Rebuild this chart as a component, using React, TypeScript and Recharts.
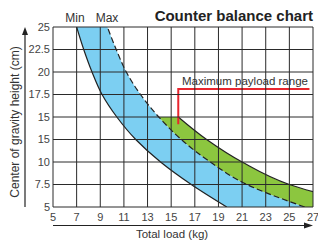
import React from 'react';
import { ComposedChart, Area, Line, XAxis, YAxis, CartesianGrid } from 'recharts';

// Center of gravity height (cm), ascending
const heights = [5, 7.5, 10, 12.5, 15, 17.5, 20, 22.5, 25];
// "Min" curve: total load (kg) at each height
const minLoad = [19.7, 16.7, 14.1, 12.0, 10.4, 9.15, 8.3, 7.6, 7.0];
// "Max" curve (dashed): total load (kg) at each height
const maxLoad = [26.3, 21.4, 18.3, 15.85, 13.95, 12.4, 11.2, 10.35, 9.6];
// Outer edge of the maximum payload (green) band
const outerHeights = [5, 7.5, 10, 12.5, 15];
const outerLoad = [32, 25.0, 21.0, 18.0, 15.6];
// Red "Maximum payload range" marker
const markerHeights = [14.2, 18.1, 18.1];
const markerLoads = [15.6, 15.6, 26.7];

const xTicks = [5, 7, 9, 11, 13, 15, 17, 19, 21, 23, 25, 27];
const yTicks = [5, 7.5, 10, 12.5, 15, 17.5, 20, 22.5, 25];
const yTickLabels = ['5', '7.5', '10', '15', '15', '17.5', '20', '22.5', '25'];

const blueRows = heights.map((h, i) => ({
  h,
  band: [minLoad[i], maxLoad[i]],
  min: minLoad[i],
  max: maxLoad[i],
}));

const greenRows = outerHeights.map((h, i) => {
  const j = heights.indexOf(h);
  return { h, band: [maxLoad[j], outerLoad[i]], outer: outerLoad[i] };
});

const markerRows = markerHeights.map((h, i) => ({ h, load: markerLoads[i] }));

const FONT = '"Liberation Sans", Arial, Helvetica, sans-serif';

export default function App() {
  return (
    <div style={{ position: 'absolute', left: 0, top: 0, width: 318, height: 240, fontFamily: FONT, background: '#fff' }}>
      <ComposedChart
        width={318}
        height={240}
        layout="vertical"
        margin={{ top: 27, right: 5, bottom: 13, left: 0 }}
      >
        <XAxis
          type="number"
          domain={[5, 27]}
          ticks={xTicks}
          allowDataOverflow
          axisLine={false}
          tickLine={false}
          tickSize={4}
          tickMargin={2}
          height={20}
          interval={0}
          tick={{ fontSize: 11, fill: '#444', fontFamily: FONT }}
        />
        <YAxis
          type="number"
          dataKey="h"
          domain={[5, 25]}
          ticks={yTicks}
          reversed
          allowDataOverflow
          axisLine={false}
          tickLine={false}
          tickSize={3}
          tickMargin={0}
          width={53}
          interval={0}
          tickFormatter={(v: number) => yTickLabels[yTicks.indexOf(v)] ?? String(v)}
          tick={{ fontSize: 11, fill: '#444', fontFamily: FONT }}
        />
        <Area
          data={blueRows}
          dataKey="band"
          type="monotone"
          fill="#7ccff2"
          fillOpacity={1}
          stroke="none"
          isAnimationActive={false}
          activeDot={false}
        />
        <Area
          data={greenRows}
          dataKey="band"
          type="monotone"
          fill="#8cc63f"
          fillOpacity={1}
          stroke="none"
          isAnimationActive={false}
          activeDot={false}
        />
        <CartesianGrid stroke="#2a2a2a" strokeWidth={1} fill="none" zIndex={450} />
        <Line
          data={blueRows}
          dataKey="min"
          type="monotone"
          stroke="#222"
          strokeWidth={1.2}
          dot={false}
          activeDot={false}
          isAnimationActive={false}
        />
        <Line
          data={blueRows}
          dataKey="max"
          type="monotone"
          stroke="#222"
          strokeWidth={1.2}
          strokeDasharray="6 3"
          dot={false}
          activeDot={false}
          isAnimationActive={false}
        />
        <Line
          data={greenRows}
          dataKey="outer"
          type="monotone"
          stroke="#222"
          strokeWidth={1.2}
          dot={false}
          activeDot={false}
          isAnimationActive={false}
        />
        <Line
          data={markerRows}
          dataKey="load"
          type="linear"
          stroke="#e8262f"
          strokeWidth={2}
          dot={false}
          activeDot={false}
          isAnimationActive={false}
        />
      </ComposedChart>
      <svg
        width={318}
        height={240}
        style={{ position: 'absolute', left: 0, top: 0, pointerEvents: 'none' }}
      >
        <text x={313} y={21} textAnchor="end" fontSize={15} fontWeight="bold" fill="#222" fontFamily={FONT}>
          Counter balance chart
        </text>
        <text x={75} y={22} textAnchor="middle" fontSize={12} fill="#333" fontFamily={FONT}>Min</text>
        <text x={107} y={22} textAnchor="middle" fontSize={12} fill="#333" fontFamily={FONT}>Max</text>
        <text x={182} y={85} fontSize={11.5} fill="#333" fontFamily={FONT}>Maximum payload range</text>
        {/* y axis arrow */}
        <line x1={25} y1={34} x2={25} y2={207} stroke="#222" strokeWidth={1.2} />
        <path d="M25,27 L22,35 L28,35 Z" fill="#222" />
        {/* x axis arrow */}
        <line x1={53} y1={225.5} x2={305} y2={225.5} stroke="#222" strokeWidth={1.2} />
        <path d="M313,225.5 L304,222.5 L304,228.5 Z" fill="#222" />
        <text x={172} y={237.5} textAnchor="middle" fontSize={11.5} fill="#333" fontFamily={FONT}>Total load (kg)</text>
        <text
          x={0}
          y={0}
          transform="translate(19,122) rotate(-90)"
          textAnchor="middle"
          fontSize={12}
          fill="#333"
          fontFamily={FONT}
        >
          Center of gravity height (cm)
        </text>
      </svg>
    </div>
  );
}
